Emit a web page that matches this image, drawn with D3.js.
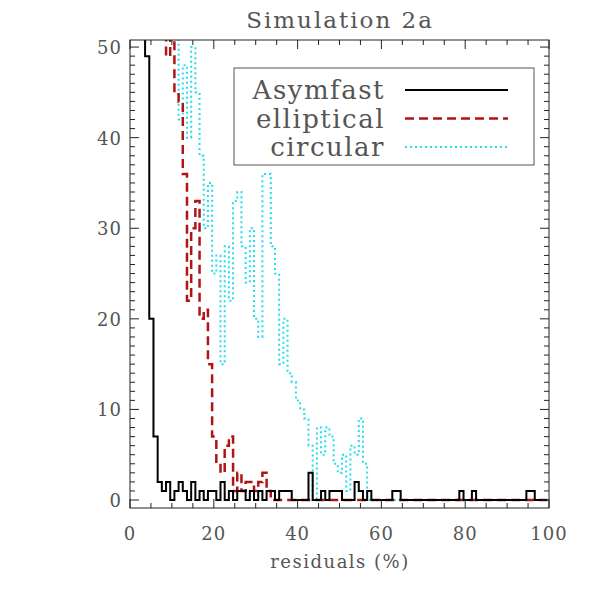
<!DOCTYPE html>
<html>
<head>
<meta charset="utf-8">
<script src="https://cdn.jsdelivr.net/npm/d3@7"></script>
<style>
body { margin: 0; background: #fff; }
text { font-family: "DejaVu Serif", "Liberation Serif", serif; fill: #555; }
</style>
</head>
<body>
<script>
// histogram counts, 1% wide bins, bin k spans k-0.4 .. k+0.6
let blackBins = {0:100,1:100,2:100,3:100,4:49,5:20,6:7,7:2,8:1,9:2,11:1,12:2,13:1,15:2,17:1,19:1,20:1,22:2,24:1,26:1,27:1,29:1,31:1,33:1,34:1,
    36:1,37:1,38:1,43:3,46:1,48:1,49:1,50:1,54:2,55:1,57:1,63:1,64:1,79:1,82:1,95:1,96:1};
let redBins = {0:100,1:100,2:100,3:100,4:100,5:100,6:100,7:100,8:100,9:49,10:55,11:45,12:44,13:36,14:22,15:30,16:33,17:20,18:21,19:15,
    20:7,21:4,22:3,23:6,24:7,25:1,26:3,27:1,28:2,29:2,30:1,31:2,32:3,33:1};
let cyanBins = {0:100,1:100,2:100,3:100,4:100,5:100,6:100,7:100,8:100,9:100,10:55,11:52,12:42,13:48,14:40,15:50,16:45,17:38,18:30,19:35,
    20:25,21:27,22:15,23:28,24:22,25:33,26:34,27:28,28:24,29:30,30:20,31:18,32:36,33:36,34:28,35:25,36:15,37:20,38:14,39:13,
    40:11,41:10,42:9,43:6,44:0,45:8,46:5,47:8,48:7,49:4,50:3,51:5,52:1,53:6,54:5,55:9,56:4};
let legendNames = ["Asymfast", "elliptical", "circular"];
let xTicks = [0, 20, 40, 60, 80, 100];
let yTicks = [0, 10, 20, 30, 40, 50];

let svg = d3.select("body").append("svg").attr("width", 591).attr("height", 591);

let x = d3.scaleLinear().domain([0, 100]).range([130, 549]);
let y = d3.scaleLinear().domain([-0.88, 50.78]).range([508, 40]);

svg.append("clipPath").attr("id", "clip").append("rect")
    .attr("x", 130).attr("y", 40).attr("width", 419).attr("height", 468);

function steps(bins) {
    let pts = [];
    for (let k = 0; k < 100; k++) pts.push([k - 0.4, bins[k] || 0]);
    pts.push([99.6, 0]);
    return pts;
}
let line = d3.line().x(d => x(d[0])).y(d => y(d[1])).curve(d3.curveStepAfter);

let series = [
    {bins: cyanBins, color: "#22ddee", dash: "2,3", w: 2},
    {bins: redBins, color: "#b01515", dash: "9,5", w: 2.5},
    {bins: blackBins, color: "#000", dash: null, w: 2}
];
let g = svg.append("g").attr("clip-path", "url(#clip)");
series.forEach(s => {
    g.append("path").attr("d", line(steps(s.bins)))
        .attr("fill", "none").attr("stroke", s.color)
        .attr("stroke-width", s.w).attr("stroke-dasharray", s.dash);
});

// frame and ticks
svg.append("rect").attr("x", 130).attr("y", 40).attr("width", 419).attr("height", 468)
    .attr("fill", "none").attr("stroke", "#222").attr("stroke-width", 1);

let ax = svg.append("g").attr("stroke", "#222").attr("stroke-width", 1);
d3.range(0, 101, 5).forEach(v => {
    let len = v % 20 === 0 ? 9 : 5;
    ax.append("line").attr("x1", x(v)).attr("x2", x(v)).attr("y1", 508).attr("y2", 508 - len);
    ax.append("line").attr("x1", x(v)).attr("x2", x(v)).attr("y1", 40).attr("y2", 40 + len);
});
d3.range(0, 51, 1).forEach(v => {
    let len = v % 10 === 0 ? 9 : 5;
    ax.append("line").attr("y1", y(v)).attr("y2", y(v)).attr("x1", 130).attr("x2", 130 + len);
    ax.append("line").attr("y1", y(v)).attr("y2", y(v)).attr("x1", 549).attr("x2", 549 - len);
});

svg.selectAll(".xt").data(xTicks).enter().append("text")
    .attr("x", d => x(d)).attr("y", 540).attr("text-anchor", "middle")
    .attr("font-size", "18px").attr("letter-spacing", "1px").text(d => d);
svg.selectAll(".yt").data(yTicks).enter().append("text")
    .attr("x", 122).attr("y", d => y(d) + 7).attr("text-anchor", "end")
    .attr("font-size", "18px").attr("letter-spacing", "1px").text(d => d);

svg.append("text").attr("x", 340).attr("y", 568).attr("text-anchor", "middle")
    .attr("font-size", "18px").attr("letter-spacing", "1.5px").text("residuals (%)");
svg.append("text").attr("x", 340).attr("y", 28).attr("text-anchor", "middle")
    .attr("font-size", "23px").attr("letter-spacing", "2px").text("Simulation 2a");

// legend
let lg = svg.append("g");
lg.append("rect").attr("x", 234).attr("y", 68).attr("width", 300).attr("height", 97)
    .attr("fill", "#fff").attr("stroke", "#555").attr("stroke-width", 1);
legendNames.forEach((n, i) => {
    let yy = 90 + i * 28.5;
    lg.append("text").attr("x", 385).attr("y", yy + 9).attr("text-anchor", "end")
        .attr("font-size", "26px").attr("letter-spacing", "1.5px").text(n);
    lg.append("line").attr("x1", 405).attr("x2", 508).attr("y1", yy).attr("y2", yy)
        .attr("stroke", [ "#000", "#b01515", "#22ddee"][i])
        .attr("stroke-width", series[2 - i].w)
        .attr("stroke-dasharray", series[2 - i].dash);
});
</script>
</body>
</html>
